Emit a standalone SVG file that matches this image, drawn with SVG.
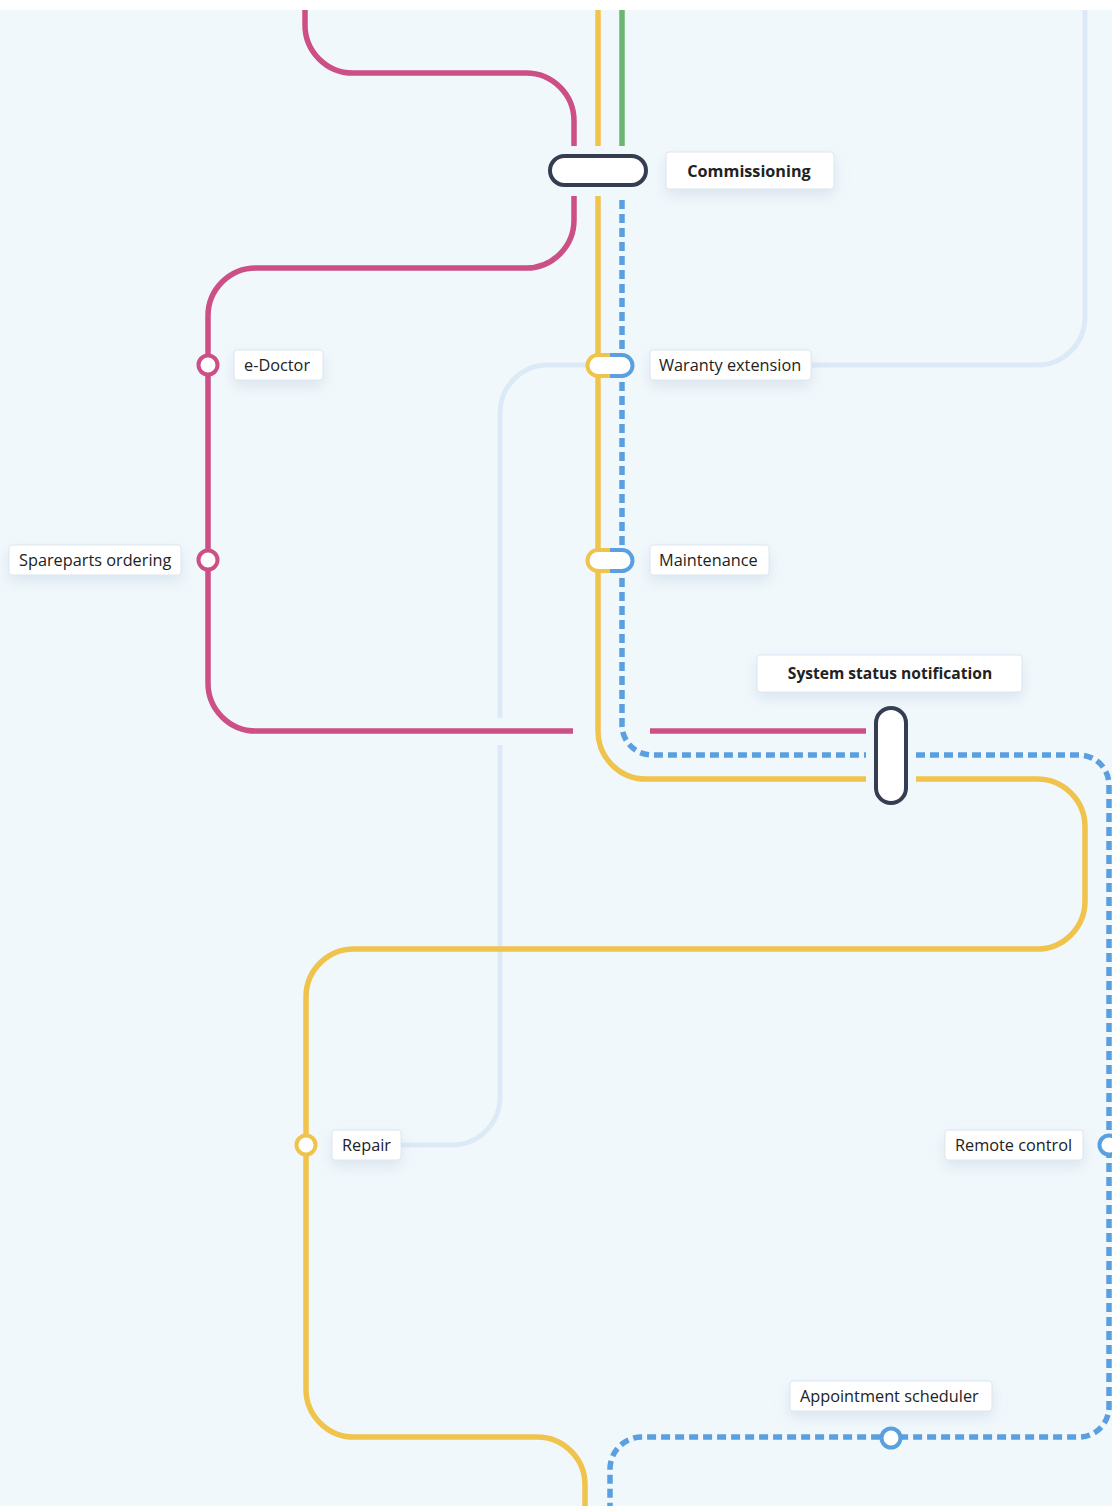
<svg xmlns="http://www.w3.org/2000/svg" width="1112" height="1506" viewBox="0 0 1112 1506">
<defs>
<style>
.ln{fill:none;stroke-width:5.5;stroke-linecap:butt}
.pink{stroke:#cc4f86}.yel{stroke:#f0c34d}.grn{stroke:#6db672}.blu{stroke:#5a9fe0;stroke-dasharray:9 5}
.lb{stroke:#dce9f7;stroke-width:5}
.lbl{fill:#ffffff;stroke:#dde6ee;stroke-width:1}
.t{font-family:"Open Sans","Noto Sans",sans-serif;font-size:16.3px;fill:#222222}
.tb{font-weight:bold;text-anchor:middle;font-size:16.2px}
.st{fill:#ffffff;stroke-width:4}
</style>
<filter id="sh" x="-30%" y="-50%" width="160%" height="220%">
<feDropShadow dx="0" dy="6" stdDeviation="7" flood-color="#9fb3c8" flood-opacity="0.28"/>
</filter>
</defs>
<rect x="0" y="0" width="1112" height="1506" fill="#ffffff"/>
<rect x="0" y="10" width="1112" height="1496" fill="#f1f8fc"/>
<g id="connectors">
<path class="ln lb" d="M1085,10 V317 A48,48 0 0 1 1037,365 H812"/>
<path class="ln lb" d="M586,365 H548 A48,48 0 0 0 500,413 V718 M500,745 V1097 A48,48 0 0 1 452,1145 H400"/>
<path class="ln pink" d="M305,10 V25 A48,48 0 0 0 353,73 H526 A48,48 0 0 1 574,121 V146"/>
<path class="ln pink" d="M574,196 V220 A48,48 0 0 1 526,268 H256 A48,48 0 0 0 208,316 V683 A48,48 0 0 0 256,731 H573"/>
<path class="ln pink" d="M650,731 H866"/>
<path class="ln yel" d="M598,10 V146"/>
<path class="ln grn" d="M622,10 V146"/>
<path class="ln yel" d="M598,196 V731 A48,48 0 0 0 646,779 H866"/>
<path class="ln yel" d="M916,779 H1037 A48,48 0 0 1 1085,827 V901 A48,48 0 0 1 1037,949 H354 A48,48 0 0 0 306,997 V1389 A48,48 0 0 0 354,1437 H537 A48,48 0 0 1 585,1485 V1506"/>
<path class="ln blu" d="M622,200 V725 A30,30 0 0 0 652,755 H866"/>
<path class="ln blu" d="M916,755 H1079 A30,30 0 0 1 1109,785 V1407 A30,30 0 0 1 1079,1437 H642 A32,32 0 0 0 610,1469 V1506"/>
</g>
<g id="commissioning">
<rect x="550" y="156" width="96" height="29" rx="14.5" class="st" stroke="#343e50"/>
<rect x="666" y="152" width="168" height="37" rx="3" class="lbl" filter="url(#sh)"/>
<text x="749" y="177" class="t tb">Commissioning</text>
</g>
<g id="waranty-extension">
<path d="M610,355 H598 A10.5,10.5 0 0 0 598,376 H610" fill="#fff" stroke="#f0c34d" stroke-width="4"/>
<path d="M610,355 H622 A10.5,10.5 0 0 1 622,376 H610" fill="#fff" stroke="#5a9fe0" stroke-width="4"/>
<rect x="650" y="350" width="161" height="30" rx="3" class="lbl" filter="url(#sh)"/>
<text x="659" y="371" class="t">Waranty extension</text>
</g>
<g id="maintenance">
<path d="M610,550 H598 A10.5,10.5 0 0 0 598,571 H610" fill="#fff" stroke="#f0c34d" stroke-width="4"/>
<path d="M610,550 H622 A10.5,10.5 0 0 1 622,571 H610" fill="#fff" stroke="#5a9fe0" stroke-width="4"/>
<rect x="650" y="545" width="119" height="30" rx="3" class="lbl" filter="url(#sh)"/>
<text x="659" y="566" class="t">Maintenance</text>
</g>
<g id="e-doctor">
<circle cx="208" cy="365" r="9.5" class="st" stroke="#cc4f86"/>
<rect x="234" y="350" width="89" height="30" rx="3" class="lbl" filter="url(#sh)"/>
<text x="244" y="371" class="t">e-Doctor</text>
</g>
<g id="spareparts-ordering">
<circle cx="208" cy="560" r="9.5" class="st" stroke="#cc4f86"/>
<rect x="9" y="545" width="172" height="30" rx="3" class="lbl" filter="url(#sh)"/>
<text x="19" y="566" class="t">Spareparts ordering</text>
</g>
<g id="system-status-notification">
<rect x="876" y="708" width="30" height="95" rx="15" class="st" stroke="#343e50"/>
<rect x="757" y="655" width="265" height="37" rx="3" class="lbl" filter="url(#sh)"/>
<text x="890" y="679" class="t tb" style="font-size:15.6px">System status notification</text>
</g>
<g id="repair">
<circle cx="306" cy="1145" r="9.5" class="st" stroke="#f0c34d"/>
<rect x="332" y="1130" width="69" height="30" rx="3" class="lbl" filter="url(#sh)"/>
<text x="342" y="1151" class="t">Repair</text>
</g>
<g id="remote-control">
<circle cx="1109" cy="1145" r="9.5" class="st" stroke="#5a9fe0"/>
<rect x="945" y="1130" width="138" height="30" rx="3" class="lbl" filter="url(#sh)"/>
<text x="955" y="1151" class="t">Remote control</text>
</g>
<g id="appointment-scheduler">
<circle cx="891" cy="1438" r="9.5" class="st" stroke="#5a9fe0"/>
<rect x="790" y="1381" width="202" height="30" rx="3" class="lbl" filter="url(#sh)"/>
<text x="800" y="1402" class="t">Appointment scheduler</text>
</g>
</svg>
